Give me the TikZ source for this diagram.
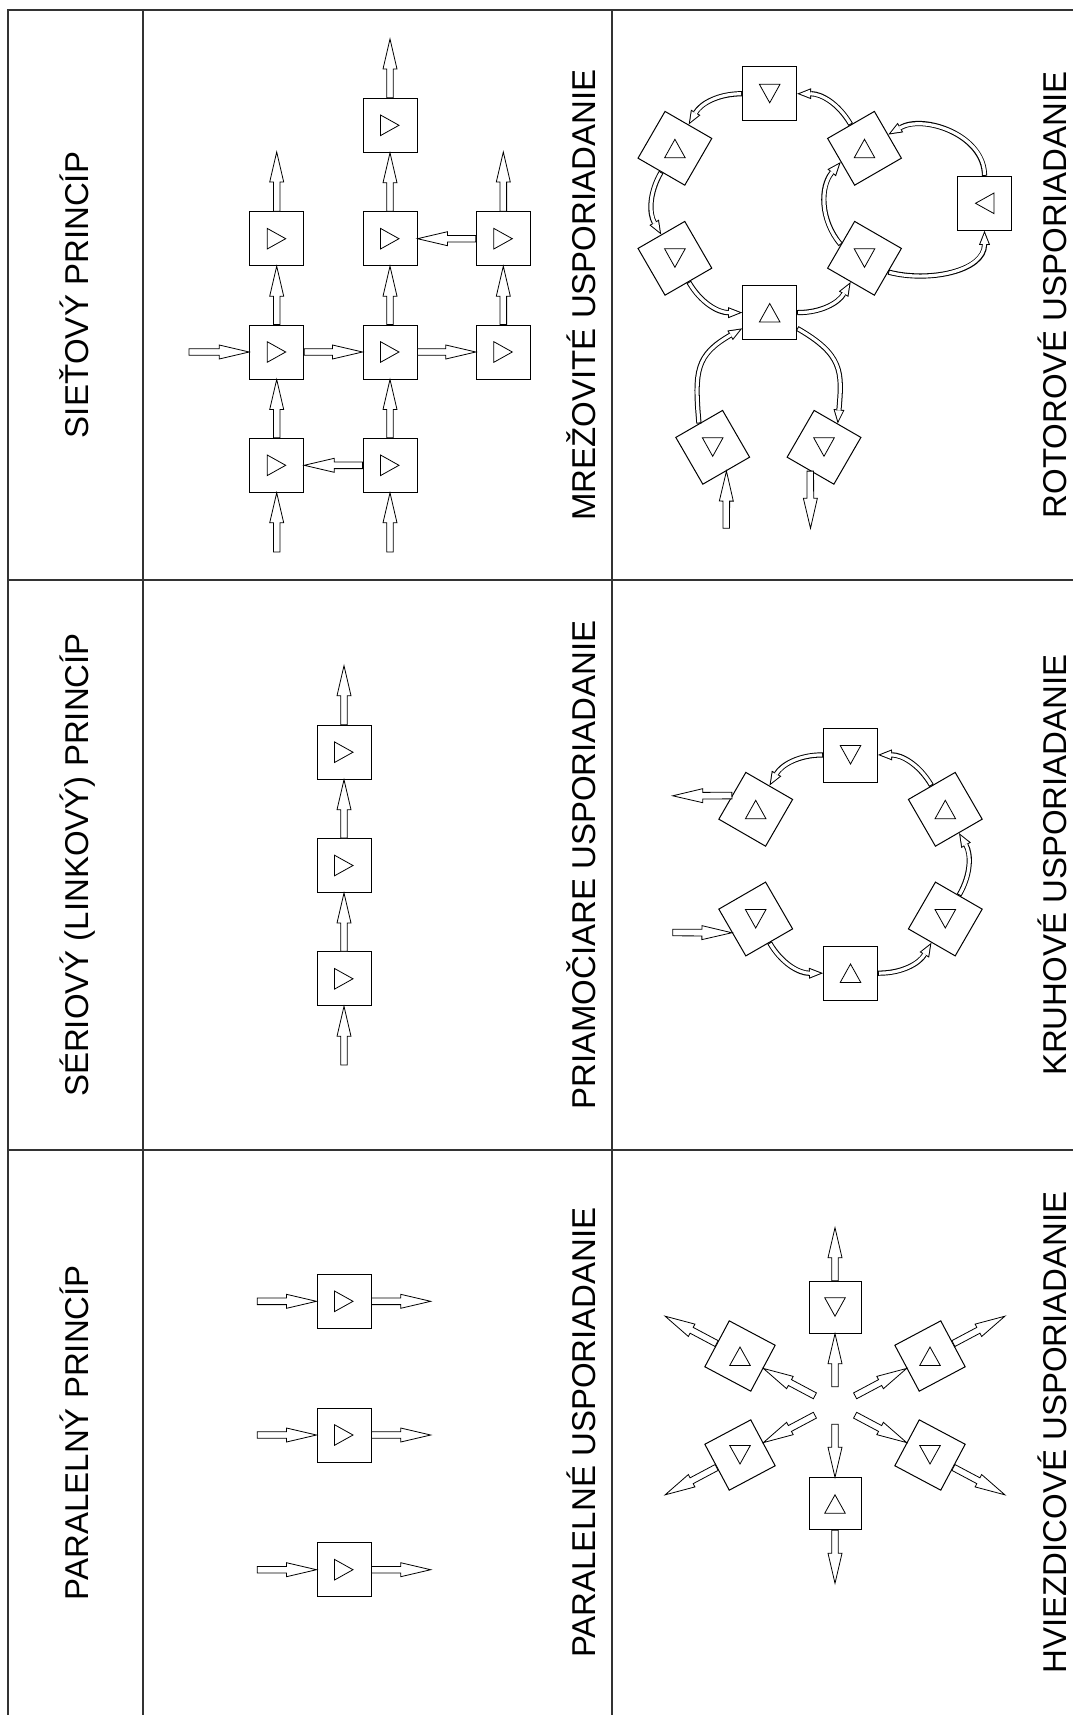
\documentclass[tikz,border=0pt]{standalone}
\usepackage{fontspec}
\setmainfont{Liberation Sans}
\usetikzlibrary{arrows.meta,calc}

\tikzset{
  Grid/.style={line width=1.2pt,black!80},
  Box/.style={draw,fill=white,line width=1pt,minimum size=54pt,inner sep=0pt},
  SBox/.style={Box,minimum size=52pt},
  ArrowLine/.style={draw,fill=white,line width=0.8pt,line join=miter},
  ArcArrow/.style={line width=5.2pt,-{Triangle[length=14pt,width=11pt,line width=0pt]},
    postaction={draw,white,line width=3.2pt,shorten <=1pt,shorten >=2.7pt,
      -{Triangle[length=10.3pt,width=8.1pt,line width=0pt]}}},
  Lbl/.style={rotate=90,anchor=base,font=\fontsize{33}{40}\selectfont},
  tri/.pic={\draw[line width=0.8pt] (-9.5,-10.3) -- (9,0) -- (-9.5,10.3) -- cycle;}
}

% hollow straight arrow from #1 to #2
\newcommand{\flowArrow}[2]{%
  \path[ArrowLine] let \p1=(#1), \p2=(#2),
    \n1={atan2(\y2-\y1,\x2-\x1)}, \n2={veclen(\x2-\x1,\y2-\y1)-30pt} in
    ($(\p1)+(\n1-90:3.3pt)$) -- ($(\p1)+(\n1:\n2)+(\n1-90:3.3pt)$)
    -- ($(\p1)+(\n1:\n2)+(\n1-90:7pt)$) -- (\p2)
    -- ($(\p1)+(\n1:\n2)+(\n1+90:7pt)$) -- ($(\p1)+(\n1:\n2)+(\n1+90:3.3pt)$)
    -- ($(\p1)+(\n1+90:3.3pt)$) -- cycle;}

\begin{document}
\begin{tikzpicture}[x=1pt,y=-1pt]
\useasboundingbox (0,0) rectangle (1073,1715);

\draw[Grid] (8,1715) -- (8,10) -- (1073,10);
\draw[Grid] (143,10) -- (143,1715) (612,10) -- (612,1715);
\draw[Grid] (8,580) -- (1073,580) (8,1150) -- (1073,1150);

\node[Lbl] (hSiet) at (88,295) {SIEŤOVÝ PRINCÍP};
\node[Lbl] (hSer) at (88,865) {SÉRIOVÝ (LINKOVÝ) PRINCÍP};
\node[Lbl] (hPar) at (88,1432.5) {PARALELNÝ PRINCÍP};
\node[Lbl] (lMrez) at (595,295) {MREŽOVITÉ USPORIADANIE};
\node[Lbl] (lPriam) at (595,865) {PRIAMOČIARE USPORIADANIE};
\node[Lbl] (lParal) at (595,1432.5) {PARALELNÉ USPORIADANIE};
\node[Lbl] (lRot) at (1066,295) {ROTOROVÉ USPORIADANIE};
\node[Lbl] (lKruh) at (1066,865) {KRUHOVÉ USPORIADANIE};
\node[Lbl] (lHviez) at (1066,1432.5) {HVIEZDICOVÉ USPORIADANIE};

% mesh
\node[Box] (mB1) at (390,125.3) {};
\node[Box] (mA2) at (276.7,238.7) {};
\node[Box] (mB2) at (390,238.7) {};
\node[Box] (mC2) at (503.3,238.7) {};
\node[Box] (mA3) at (276.7,352) {};
\node[Box] (mB3) at (390,352) {};
\node[Box] (mC3) at (503.3,352) {};
\node[Box] (mA4) at (276.7,465.3) {};
\node[Box] (mB4) at (390,465.3) {};
\coordinate (mInA) at (276.7,552);
\coordinate (mInB) at (390,552);
\coordinate (mInL) at (189,352);
\coordinate (mOutA) at (276.7,152);
\coordinate (mOutB) at (390,39);
\coordinate (mOutC) at (503.3,152);

% serial
\node[Box] (s1) at (344,978.8) {};
\node[Box] (s2) at (344,865.5) {};
\node[Box] (s3) at (344,752.2) {};
\coordinate (sIn) at (344,1065);
\coordinate (sOut) at (344,665.7);

% parallel
\node[Box] (p1) at (344,1301.3) {};
\node[Box] (p2) at (344,1435) {};
\node[Box] (p3) at (344,1569.7) {};
\coordinate (pIn1) at (257.3,1301.3);
\coordinate (pIn2) at (257.3,1435);
\coordinate (pIn3) at (257.3,1569.7);
\coordinate (pOut1) at (430.7,1301.3);
\coordinate (pOut2) at (430.7,1435);
\coordinate (pOut3) at (430.7,1569.7);

% rotor
\node[Box] (rT) at (769.7,93.8) {};
\node[Box,rotate=-30] (rUL) at (674.9,148.3) {};
\node[Box,rotate=30] (rUR) at (864.5,148.3) {};
\node[Box,rotate=30] (rLM) at (674.9,258.3) {};
\node[Box,rotate=-30] (rRM) at (864.5,258.3) {};
\node[Box] (rB) at (769.7,312.5) {};
\node[Box] (rR) at (984.5,203.3) {};
\node[Box,rotate=30] (rLL) at (712.7,447.3) {};
\node[Box,rotate=-30] (rLR) at (824,447.3) {};
\coordinate (rIn) at (726.2,528.3);
\coordinate (rOut) at (810.5,528.3);

% ring
\node[Box] (kT) at (850.5,755) {};
\node[Box,rotate=-30] (kUL) at (755.7,809.3) {};
\node[Box,rotate=30] (kUR) at (945.3,809.3) {};
\node[Box,rotate=30] (kLL) at (755.7,919) {};
\node[Box,rotate=-30] (kLR) at (945.3,919) {};
\node[Box] (kB) at (850.5,973) {};
\coordinate (kIn) at (672.7,932.5);
\coordinate (kOut) at (672.7,795.8);

% star
\node[SBox] (hT) at (835,1307.2) {};
\node[SBox,rotate=-28] (hUL) at (740,1356) {};
\node[SBox,rotate=28] (hUR) at (930,1356) {};
\node[SBox,rotate=28] (hLL) at (740,1455) {};
\node[SBox,rotate=-28] (hLR) at (930,1455) {};
\node[SBox] (hB) at (835,1503.8) {};

\foreach \n in {mB1,mA2,mB2,mC2,mA3,mB3,mC3,mA4,mB4,s1,s2,s3,p1,p2,p3}
  \pic at (\n) {tri};
\foreach \n in {rUL,rUR,rB,kUL,kUR,kB,hUL,hUR,hB}
  \pic[rotate=90] at (\n) {tri};
\foreach \n in {rT,rLM,rRM,rLL,rLR,kT,kLL,kLR,hT,hLL,hLR}
  \pic[rotate=-90] at (\n) {tri};
\pic[rotate=180] at (rR) {tri};

\flowArrow{mInA}{mA4.south}
\flowArrow{mInB}{mB4.south}
\flowArrow{mB4.west}{mA4.east}
\flowArrow{mA4.north}{mA3.south}
\flowArrow{mB4.north}{mB3.south}
\flowArrow{mInL}{mA3.west}
\flowArrow{mA3.east}{mB3.west}
\flowArrow{mB3.east}{mC3.west}
\flowArrow{mA3.north}{mA2.south}
\flowArrow{mB3.north}{mB2.south}
\flowArrow{mC3.north}{mC2.south}
\flowArrow{mC2.west}{mB2.east}
\flowArrow{mB2.north}{mB1.south}
\flowArrow{mA2.north}{mOutA}
\flowArrow{mB1.north}{mOutB}
\flowArrow{mC2.north}{mOutC}

\flowArrow{sIn}{s1.south}
\flowArrow{s1.north}{s2.south}
\flowArrow{s2.north}{s3.south}
\flowArrow{s3.north}{sOut}

\flowArrow{pIn1}{p1.west}
\flowArrow{p1.east}{pOut1}
\flowArrow{pIn2}{p2.west}
\flowArrow{p2.east}{pOut2}
\flowArrow{pIn3}{p3.west}
\flowArrow{p3.east}{pOut3}

\draw[ArcArrow] (rT) to[bend right=30] (rUL);
\draw[ArcArrow] (rUL) to[bend right=30] (rLM);
\draw[ArcArrow] (rLM) to[bend right=30] (rB);
\draw[ArcArrow] (rB) to[bend right=30] (rRM);
\draw[ArcArrow] (rUR) to[bend right=30] (rT);
\draw[ArcArrow] (rRM.west) to[bend left=40] (rUR.west);
\draw[ArcArrow] (rRM.east) to[out=-15,in=-90] (rR);
\draw[ArcArrow] (rR) to[out=90,in=30] (rUR.east);
\draw[ArcArrow] (rLL.north) to[out=95,in=210,looseness=1.3] (rB);
\draw[ArcArrow] (rB) to[out=-30,in=85,looseness=1.3] (rLR.north);
\flowArrow{rIn}{rLL.south}
\flowArrow{rLR.south}{rOut}

\flowArrow{kIn}{kLL.west}
\draw[ArcArrow] (kLL) to[bend right=30] (kB);
\draw[ArcArrow] (kB) to[bend right=30] (kLR);
\draw[ArcArrow] (kLR) to[bend right=30] (kUR);
\draw[ArcArrow] (kUR) to[bend right=30] (kT);
\draw[ArcArrow] (kT) to[bend right=30] (kUL);
\flowArrow{kUL.west}{kOut}

\flowArrow{$(hT)!3!(hT.south)$}{hT.south}
\flowArrow{hT.north}{$(hT)!3!(hT.north)$}
\flowArrow{$(hB)!3!(hB.north)$}{hB.north}
\flowArrow{hB.south}{$(hB)!3!(hB.south)$}
\flowArrow{$(hUL)!3.2!(hUL.east)$}{hUL.east}
\flowArrow{hUL.west}{$(hUL)!3.2!(hUL.west)$}
\flowArrow{$(hUR)!3.2!(hUR.west)$}{hUR.west}
\flowArrow{hUR.east}{$(hUR)!3.2!(hUR.east)$}
\flowArrow{$(hLL)!3.2!(hLL.east)$}{hLL.east}
\flowArrow{hLL.west}{$(hLL)!3.2!(hLL.west)$}
\flowArrow{$(hLR)!3.2!(hLR.west)$}{hLR.west}
\flowArrow{hLR.east}{$(hLR)!3.2!(hLR.east)$}

\end{tikzpicture}
\end{document}
